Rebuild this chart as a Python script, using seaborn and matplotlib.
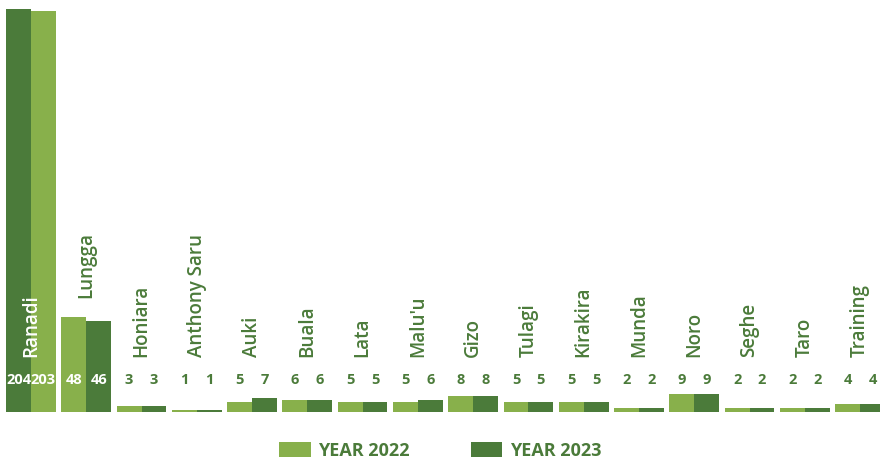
import matplotlib
matplotlib.use("Agg")
import matplotlib.pyplot as plt
from matplotlib.patches import Patch
import seaborn as sns
import pandas as pd

categories = ["Ranadi", "Lungga", "Honiara", "Anthony Saru", "Auki", "Buala", "Lata",
              "Malu'u", "Gizo", "Tulagi", "Kirakira", "Munda", "Noro", "Seghe", "Taro",
              "Training"]
year_2022 = [204, 48, 3, 1, 5, 6, 5, 5, 8, 5, 5, 2, 9, 2, 2, 4]
year_2023 = [203, 46, 3, 1, 7, 6, 5, 6, 8, 5, 5, 2, 9, 2, 2, 4]
series_names = ["YEAR 2022", "YEAR 2023"]

LIGHT = "#88b04b"
DARK = "#4b7b3a"

df = pd.DataFrame({
    "site": categories * 2,
    "count": year_2022 + year_2023,
    "year": [series_names[0]] * len(categories) + [series_names[1]] * len(categories),
})

sns.set_theme(style="white")
plt.rcParams["font.family"] = ["Open Sans", "DejaVu Sans"]

fig = plt.figure(figsize=(8.8, 4.61), dpi=100)
ax = fig.add_axes([0, 1 - 412 / 461, 1, 412 / 461])

sns.barplot(data=df, x="site", y="count", hue="year", order=categories,
            hue_order=series_names, palette=[LIGHT, DARK], width=0.9,
            linewidth=0, saturation=1, legend=False, ax=ax)

# the first site's pair is drawn with the shades swapped
ax.containers[0][0].set_facecolor(DARK)
ax.containers[1][0].set_facecolor(LIGHT)

ax.set_xlim(-0.56, 15.36)
ax.set_ylim(0, 208.5)
ax.set_axis_off()

# value labels on one common line; white where they sit on a bar
for container, values in zip(ax.containers, [year_2022, year_2023]):
    for bar, v in zip(container, values):
        cx = bar.get_x() + bar.get_width() / 2
        color = "white" if v > 20 else DARK
        ax.text(cx, 16.2, str(v), ha="center", va="center", color=color,
                fontsize=10.5, fontweight="bold")

# site names, rotated above the values
for i, (name, a, b) in enumerate(zip(categories, year_2022, year_2023)):
    top = max(a, b)
    if top > 100:
        ax.text(i, 27.8, name, rotation=90, ha="center", va="bottom",
                color="white", fontsize=13.5, fontweight=600)
    else:
        ax.text(i, max(27.8, top + 9.7), name, rotation=90, ha="center",
                va="bottom", color=DARK, fontsize=13.5, fontweight=600)

handles = [Patch(facecolor=LIGHT, edgecolor="none"), Patch(facecolor=DARK, edgecolor="none")]
leg = fig.legend(handles, series_names, loc="center", bbox_to_anchor=(0.5, 1 - 451 / 461),
                 ncol=2, frameon=False, fontsize=13, handlelength=1.75, handleheight=0.9,
                 handletextpad=0.4, columnspacing=3.4, borderpad=0.2)
for t in leg.get_texts():
    t.set_color(DARK)
    t.set_fontweight("bold")

fig.savefig("out.png", dpi=100)
